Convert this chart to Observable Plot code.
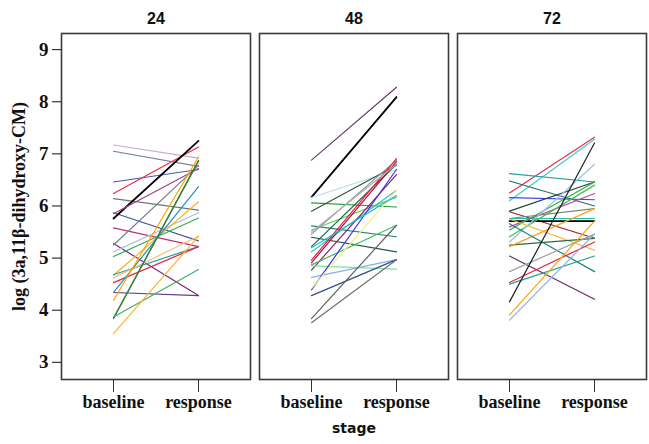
<!DOCTYPE html>
<html>
<head>
<meta charset="utf-8">
<script src="https://cdn.jsdelivr.net/npm/d3@7"></script>
<script src="https://cdn.jsdelivr.net/npm/@observablehq/plot@0.6"></script>
<style>
  html, body { margin: 0; padding: 0; background: #fff; }
</style>
</head>
<body>
<div id="chart"></div>
<script>
const times = [24, 48, 72];
const stages = ["baseline", "response"];
const yTicks = [3, 4, 5, 6, 7, 8, 9];
const yTitle = "log (3a,11β-dihydroxy-CM)";
const xTitle = "stage";

const baseline24 = [7.17, 7.05, 6.46, 6.24, 6.14, 5.87, 5.76, 5.85, 5.58, 5.28, 5.25, 5.12, 5.03, 4.67, 4.68, 4.53, 4.62, 4.34, 4.34, 4.19, 3.84, 3.85, 3.87, 3.55];
const response24 = [6.92, 6.76, 6.70, 7.13, 5.92, 5.33, 7.25, 6.72, 5.22, 4.28, 6.78, 5.87, 5.77, 6.08, 5.22, 5.22, 5.42, 4.28, 6.37, 6.94, 6.87, 6.86, 4.78, 5.42];
const colors24 = ["#c8a8d0", "#7a7f9e", "#4a5bb0", "#e8304a", "#6b7a6e", "#4a5a9a", "#000000", "#a04090", "#c03070", "#7a2a80", "#7a8090", "#a8c0e8", "#30b050", "#ffb020", "#20a0a0", "#e82040", "#f0c080", "#6a3a8a", "#2090c0", "#ffa500", "#1a4a2a", "#3a8a3a", "#40b060", "#ffb030"];

const baseline48 = [6.88, 6.17, 6.16, 6.06, 5.90, 5.62, 5.54, 5.46, 5.40, 5.22, 5.12, 4.96, 4.91, 4.77, 4.85, 4.87, 4.63, 4.39, 4.42, 4.28, 3.84, 3.76, 5.50, 5.20];
const response48 = [8.28, 8.09, 6.70, 5.98, 6.78, 5.41, 6.17, 6.88, 5.12, 6.80, 6.30, 6.91, 6.85, 6.60, 4.79, 5.63, 4.97, 6.70, 6.30, 4.97, 5.63, 4.97, 6.80, 6.20];
const colors48 = ["#6a3a6a", "#000000", "#c0e0f0", "#20a040", "#2a5a3a", "#208080", "#60d060", "#909090", "#1a5a3a", "#1a6a4a", "#40c0d0", "#e82040", "#b01040", "#902060", "#80e0a0", "#40c060", "#80b0e0", "#3a3ae0", "#f0f080", "#3a4a8a", "#606060", "#707070", "#b0b0b0", "#20c0c0"];

const baseline72 = [6.25, 6.10, 6.62, 6.48, 6.16, 5.90, 5.89, 5.76, 5.71, 5.76, 5.60, 5.54, 5.75, 5.41, 5.31, 5.25, 5.22, 5.66, 5.04, 4.74, 4.53, 4.50, 4.16, 3.91, 3.81];
const response72 = [7.32, 7.28, 6.46, 6.00, 6.12, 6.46, 5.38, 5.95, 5.71, 5.76, 6.24, 6.46, 5.15, 6.40, 6.80, 5.38, 5.95, 4.74, 4.21, 5.46, 5.31, 5.04, 7.21, 5.71, 5.46];
const colors72 = ["#e8304a", "#40d0d0", "#20a0a0", "#2a6a6a", "#4040f0", "#1a4a3a", "#a02030", "#808070", "#000000", "#20c0b0", "#c040c0", "#30b040", "#ffb020", "#40c040", "#a0c0e8", "#2a6a3a", "#ffa020", "#208080", "#6a2a6a", "#a0a0a0", "#e82040", "#20a090", "#202020", "#ffa500", "#90b0e0"];

const panels = [
  {time: 24, base: baseline24, resp: response24, cols: colors24},
  {time: 48, base: baseline48, resp: response48, cols: colors48},
  {time: 72, base: baseline72, resp: response72, cols: colors72}
];

const rows = [];
for (const p of panels) {
  p.base.forEach((b, i) => {
    const id = p.time + "-" + i;
    const c = p.cols[i];
    rows.push({time: p.time, id, stage: stages[0], value: b, color: c});
    rows.push({time: p.time, id, stage: stages[1], value: p.resp[i], color: c});
  });
}

const serif = "'Liberation Serif', 'Times New Roman', serif";
const sans = "'Liberation Sans', Arial, sans-serif";

const chart = Plot.plot({
  width: 649,
  height: 444,
  marginTop: 33,
  marginBottom: 65,
  marginLeft: 60,
  marginRight: 2,
  fx: {domain: times, paddingInner: 0.045, paddingOuter: 0, label: null},
  x: {type: "point", domain: stages, padding: 0.6, label: null},
  y: {domain: [2.67, 9.31], label: null},
  color: {type: "identity"},
  marks: [
    Plot.line(rows, {
      fx: "time", x: "stage", y: "value", z: "id", stroke: "color",
      strokeWidth: d => d.color === "#000000" ? 1.8 : 1.2
    }),
    Plot.frame({stroke: "#3a3a3a", strokeWidth: 1.6}),
    Plot.axisFx({anchor: "top", tickSize: 0, tickPadding: 10, fontSize: 16, fontWeight: "bold", fontFamily: sans, label: null, color: "#111"}),
    Plot.axisX({anchor: "bottom", tickSize: 13, tickPadding: 3, fontSize: 18, fontWeight: "bold", fontFamily: serif, label: null, stroke: "#333", color: "#111"}),
    Plot.axisY({anchor: "left", ticks: yTicks, tickFormat: d3.format("d"), tickSize: 9, tickPadding: 4, fontSize: 19, fontWeight: "bold", fontFamily: serif, label: null, color: "#111"}),
    Plot.text([times[0]], {fx: d => d, frameAnchor: "left", textAnchor: "middle", text: () => yTitle, rotate: -90, dx: -42, fontSize: 18, fontWeight: "bold", fontFamily: serif, fill: "#111"}),
    Plot.text([times[1]], {fx: d => d, frameAnchor: "bottom", text: () => xTitle, dy: 53, fontSize: 14, fontWeight: "bold", fontFamily: "'DejaVu Sans', sans-serif", fill: "#111"})
  ]
});
document.getElementById("chart").appendChild(chart);
</script>
</body>
</html>
